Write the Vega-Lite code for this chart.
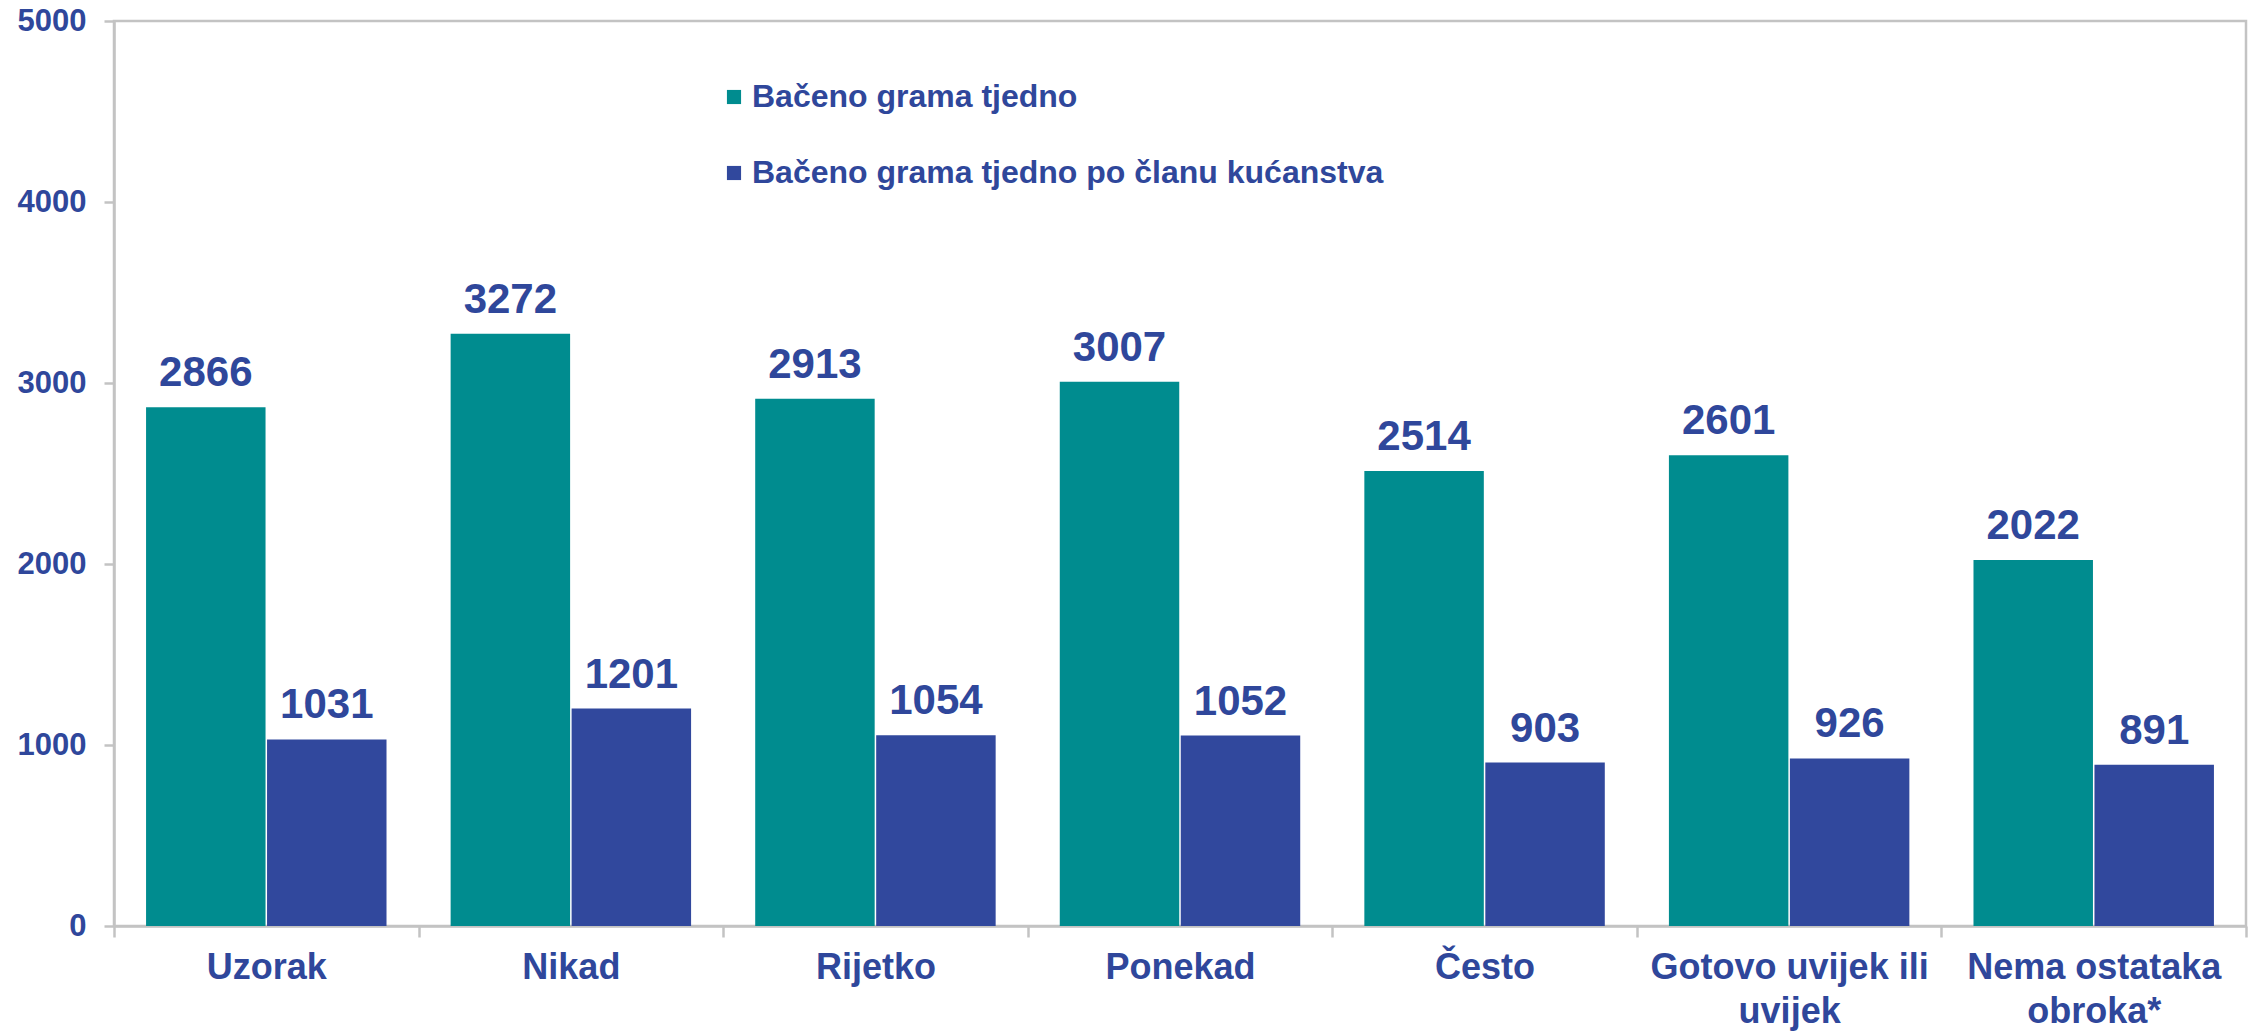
{
  "$schema": "https://vega.github.io/schema/vega-lite/v6.json",
  "autosize": "none",
  "width": 2132,
  "height": 905,
  "padding": {"left": 114, "top": 21, "right": 8, "bottom": 108},
  "background": "white",
  "config": {
    "font": "Liberation Sans",
    "view": {"stroke": "#c3c3c3", "strokeWidth": 2.5},
    "axis": {"grid": false, "domainColor": "#c3c3c3", "domainWidth": 2.5, "tickColor": "#c3c3c3", "tickWidth": 2.5, "labelColor": "#2f479b", "labelFont": "Liberation Sans", "labelFontWeight": "bold", "title": null}
  },
  "data": {
    "values": [
      {"cat": "Uzorak", "series": "Bačeno grama tjedno", "value": 2866},
      {"cat": "Nikad", "series": "Bačeno grama tjedno", "value": 3272},
      {"cat": "Rijetko", "series": "Bačeno grama tjedno", "value": 2913},
      {"cat": "Ponekad", "series": "Bačeno grama tjedno", "value": 3007},
      {"cat": "Često", "series": "Bačeno grama tjedno", "value": 2514},
      {"cat": "Gotovo uvijek ili uvijek", "series": "Bačeno grama tjedno", "value": 2601},
      {"cat": "Nema ostataka obroka*", "series": "Bačeno grama tjedno", "value": 2022},
      {"cat": "Uzorak", "series": "Bačeno grama tjedno po članu kućanstva", "value": 1031},
      {"cat": "Nikad", "series": "Bačeno grama tjedno po članu kućanstva", "value": 1201},
      {"cat": "Rijetko", "series": "Bačeno grama tjedno po članu kućanstva", "value": 1054},
      {"cat": "Ponekad", "series": "Bačeno grama tjedno po članu kućanstva", "value": 1052},
      {"cat": "Često", "series": "Bačeno grama tjedno po članu kućanstva", "value": 903},
      {"cat": "Gotovo uvijek ili uvijek", "series": "Bačeno grama tjedno po članu kućanstva", "value": 926},
      {"cat": "Nema ostataka obroka*", "series": "Bačeno grama tjedno po članu kućanstva", "value": 891}
    ]
  },
  "encoding": {
    "x": {
      "field": "cat", "type": "nominal", "sort": null,
      "scale": {"paddingInner": 0, "paddingOuter": 0},
      "axis": {
        "labelAngle": 0, "labelFontSize": 36, "tickSize": 11, "tickBand": "extent", "labelPadding": 13,
        "labelLineHeight": 44, "labelLimit": 1000,
        "labelExpr": "datum.value == 'Gotovo uvijek ili uvijek' ? ['Gotovo uvijek ili', 'uvijek'] : datum.value == 'Nema ostataka obroka*' ? ['Nema ostataka', 'obroka*'] : datum.value"
      }
    },
    "xOffset": {
      "field": "series", "type": "nominal", "sort": null,
      "scale": {"paddingInner": 0.0124, "paddingOuter": 0.265}
    },
    "y": {
      "field": "value", "type": "quantitative",
      "scale": {"domain": [0, 5000], "nice": false},
      "axis": {"values": [0, 1000, 2000, 3000, 4000, 5000], "format": "d", "labelFontSize": 31, "tickSize": 10, "labelPadding": 18}
    }
  },
  "layer": [
    {
      "mark": {"type": "bar"},
      "encoding": {
        "color": {
          "field": "series", "type": "nominal", "sort": null,
          "scale": {"domain": ["Bačeno grama tjedno", "Bačeno grama tjedno po članu kućanstva"], "range": ["#008c8f", "#31489d"]},
          "legend": {
            "title": null, "orient": "none", "legendX": 604, "legendY": 60, "padding": 0,
            "symbolType": "square", "symbolSize": 200, "symbolStrokeWidth": 0,
            "labelFontSize": 32, "labelFont": "Liberation Sans", "labelFontWeight": "bold", "labelColor": "#2f479b",
            "labelOffset": 2, "rowPadding": 44, "labelLimit": 1000
          }
        }
      }
    },
    {
      "mark": {"type": "text", "baseline": "alphabetic", "dy": -21, "fontSize": 42, "fontWeight": "bold", "font": "Liberation Sans", "color": "#2f479b"},
      "encoding": {"text": {"field": "value", "type": "quantitative", "format": "d"}}
    }
  ]
}
